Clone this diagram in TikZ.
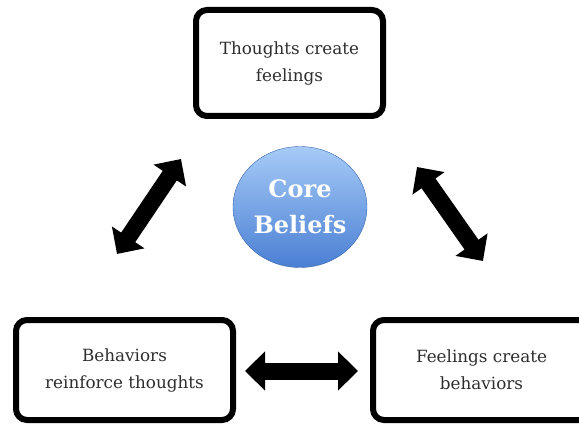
\documentclass[tikz,border=0pt]{standalone}
\usepackage{fontspec}
\setmainfont{DejaVu Serif}
\usetikzlibrary{arrows.meta}
\usetikzlibrary{shapes.geometric}
\definecolor{txtgray}{HTML}{2E2E2E}
\definecolor{coretop}{HTML}{A6CBF7}
\definecolor{corebot}{HTML}{4A7FD3}
\tikzset{
  stepbox/.style = {draw, line width = 6pt, rounded corners = 11pt, fill = white,
    text = txtgray, align = center, font = \fontsize{16.8}{27}\selectfont, inner sep = 0pt},
  bigarrow/.style = {line width = 17pt, {Triangle[length = 20pt, width = 38pt]}-{Triangle[length = 20pt, width = 38pt]}}
}

\begin{document}
\begin{tikzpicture}[x = 1pt, y = -1pt]
    \useasboundingbox (0,0) rectangle (579,425);

    \node[stepbox, minimum width = 187pt, minimum height = 106pt] (thoughts) at (289.5,63) {Thoughts create\\feelings};
    \node[stepbox, minimum width = 217pt, minimum height = 100pt] (behaviors) at (124.5,370) {Behaviors\\reinforce thoughts};
    \node[stepbox, minimum width = 217pt, minimum height = 100pt] (feelings) at (481.5,370) {Feelings create\\behaviors};

    \node[ellipse, draw = corebot!80!black, line width = 0.4pt, top color = coretop, bottom color = corebot,
      minimum width = 134pt, minimum height = 121pt, inner sep = 0pt, text = white, align = center,
      font = \bfseries\fontsize{24}{36}\selectfont] (core) at (300,207) {Core\\Beliefs};

    \coordinate (ltop) at (181,159);
    \coordinate (lbot) at (117,254);
    \coordinate (rtop) at (417,167);
    \coordinate (rbot) at (483,261);
    \coordinate (bleft) at (245,371);
    \coordinate (bright) at (358,371);

    \draw[bigarrow] (lbot) -- (ltop);
    \draw[bigarrow] (rtop) -- (rbot);
    \draw[bigarrow] (bleft) -- (bright);
\end{tikzpicture}
\end{document}
